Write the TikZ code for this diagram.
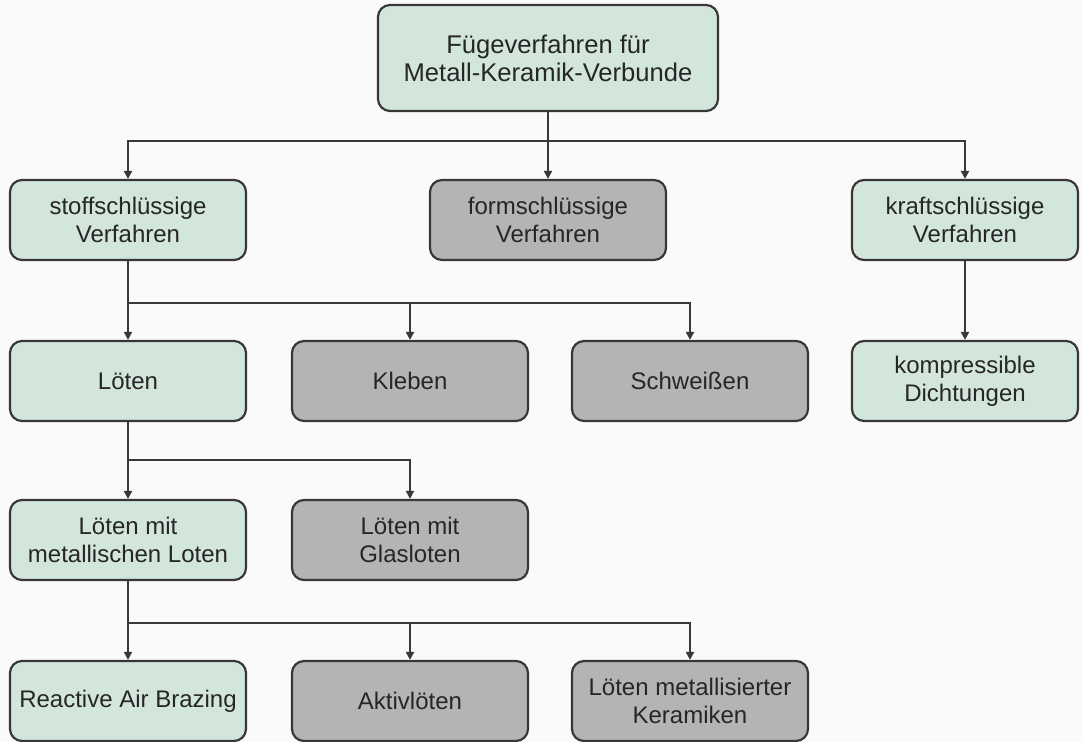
\documentclass[tikz,border=0pt]{standalone}
\usepackage{fontspec}
\setmainfont{Liberation Sans}
\usetikzlibrary{positioning, arrows.meta}
\definecolor{mint}{HTML}{D3E6DC}
\definecolor{stone}{HTML}{B4B4B4}
\definecolor{edge}{HTML}{383838}
\definecolor{paper}{HTML}{FAFAFA}
\definecolor{ink}{HTML}{262626}

\begin{document}
\begin{tikzpicture}[
    x=0.5pt, y=-0.5pt,
    box/.style={rectangle, draw=edge, line width=1.1pt, text=ink,
                rounded corners=6pt, minimum width=118pt, minimum height=40pt,
                inner sep=0pt, align=center, font=\fontsize{12}{14}\selectfont},
    used/.style={box, fill=mint},
    unused/.style={box, fill=stone},
    arrow/.style={-{Triangle[length=4pt, width=4pt]}, line width=1pt, edge}
  ]
    \path[use as bounding box, fill=paper] (0,0) rectangle (1083,742);

    % top
    \node[used, minimum width=170pt, minimum height=53pt,
          font=\fontsize{12.8}{14}\selectfont] (fuege) at (548,58) {F\"ugeverfahren f\"ur\\Metall-Keramik-Verbunde};

    % row 2
    \node[used] (stoff) at (128,220) {stoffschl\"ussige\\Verfahren};
    \node[unused] (form) at (548,220) {formschl\"ussige\\Verfahren};
    \node[used, minimum width=113pt] (kraft) at (965,220) {kraftschl\"ussige\\Verfahren};

    % row 3
    \node[used] (loeten) at (128,381) {L\"oten};
    \node[unused] (kleben) at (410,381) {Kleben};
    \node[unused] (schweissen) at (690,381) {Schwei\ss en};
    \node[used, minimum width=113pt] (dicht) at (965,381) {kompressible\\Dichtungen};

    % row 4
    \node[used] (metall) at (128,540) {L\"oten mit\\metallischen Loten};
    \node[unused] (glas) at (410,540) {L\"oten mit\\Glasloten};

    % row 5
    \node[used] (rab) at (128,701) {Reactive Air Brazing};
    \node[unused] (aktiv) at (410,701) {Aktivl\"oten};
    \node[unused] (keramik) at (690,701) {L\"oten metallisierter\\Keramiken};

    \draw[arrow] (fuege.south) -- ++(0,29) -| (stoff.north);
    \draw[arrow] (fuege.south) -- (form.north);
    \draw[arrow] (fuege.south) -- ++(0,29) -| (kraft.north);

    \draw[arrow] (stoff.south) -- (loeten.north);
    \draw[arrow] (stoff.south) -- ++(0,42) -| (kleben.north);
    \draw[arrow] (stoff.south) -- ++(0,42) -| (schweissen.north);

    \draw[arrow] (kraft.south) -- (dicht.north);

    \draw[arrow] (loeten.south) -- (metall.north);
    \draw[arrow] (loeten.south) -- ++(0,38) -| (glas.north);

    \draw[arrow] (metall.south) -- (rab.north);
    \draw[arrow] (metall.south) -- ++(0,42) -| (aktiv.north);
    \draw[arrow] (metall.south) -- ++(0,42) -| (keramik.north);
  \end{tikzpicture}
\end{document}
